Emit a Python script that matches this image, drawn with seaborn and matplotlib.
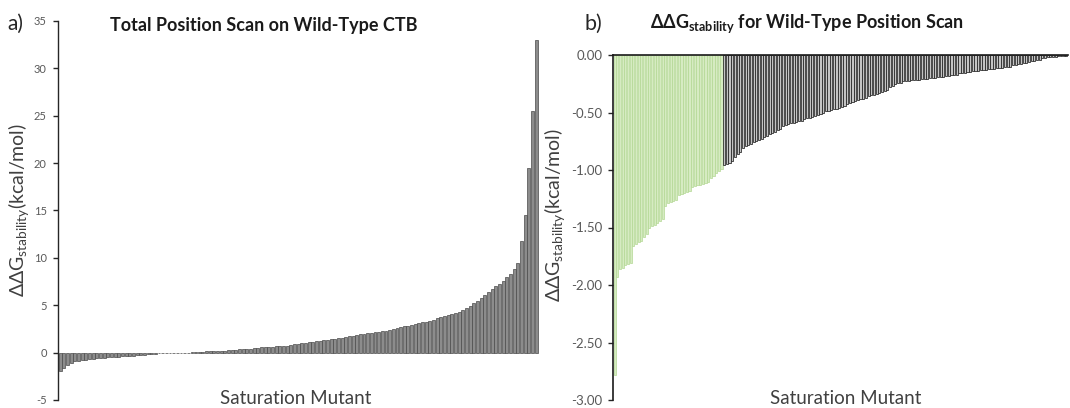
import numpy as np
import pandas as pd
import matplotlib
matplotlib.use("Agg")
import matplotlib.pyplot as plt
from matplotlib.ticker import FormatStrFormatter, MultipleLocator
import seaborn as sns

# Panel a: ddG of every saturation mutant, sorted ascending (kcal/mol)
scan_ddg = [
    -1.98, -1.62, -1.30, -1.05, -0.93, -0.86, -0.80, -0.74, -0.70, -0.66,
    -0.62, -0.58, -0.54, -0.50, -0.47, -0.44, -0.42, -0.40, -0.37, -0.35,
    -0.33, -0.30, -0.26, -0.22, -0.18, -0.14, -0.11, -0.08, -0.06, -0.04,
    -0.03, -0.02, -0.01, -0.005, 0.005, 0.01, 0.03, 0.05, 0.08, 0.10,
    0.12, 0.14, 0.16, 0.18, 0.20, 0.22, 0.26, 0.30, 0.32, 0.35,
    0.38, 0.41, 0.43, 0.45, 0.50, 0.55, 0.60, 0.62, 0.64, 0.66,
    0.68, 0.70, 0.72, 0.78, 0.86, 0.94, 1.00, 1.05, 1.10, 1.15,
    1.20, 1.26, 1.32, 1.36, 1.40, 1.45, 1.50, 1.58, 1.66, 1.73,
    1.80, 1.86, 1.92, 1.98, 2.03, 2.10, 2.15, 2.20, 2.25, 2.30,
    2.42, 2.52, 2.60, 2.68, 2.78, 2.86, 2.95, 3.02, 3.10, 3.20,
    3.28, 3.36, 3.48, 3.62, 3.72, 3.82, 3.96, 4.10, 4.22, 4.34,
    4.52, 4.72, 4.95, 5.20, 5.50, 5.80, 6.10, 6.45, 6.75, 7.00,
    7.25, 7.60, 7.95, 8.35, 8.80, 9.50, 11.80, 14.50, 19.50, 25.50,
    33.00,
]

# Panel b: stabilising mutants only; the first group is the strongly stabilising set
stab_ddg_strong = [
    -2.78, -1.93, -1.86, -1.85, -1.83, -1.82, -1.81, -1.66, -1.64, -1.63,
    -1.62, -1.58, -1.56, -1.50, -1.49, -1.48, -1.46, -1.44, -1.43, -1.31,
    -1.29, -1.28, -1.27, -1.26, -1.22, -1.21, -1.20, -1.19, -1.18, -1.15,
    -1.14, -1.13, -1.13, -1.12, -1.11, -1.10, -1.07, -1.05, -1.03, -1.01,
    -0.99,
]
stab_ddg_other = [
    -0.96, -0.95, -0.94, -0.92, -0.89, -0.86, -0.84, -0.81, -0.79, -0.78,
    -0.77, -0.76, -0.75, -0.74, -0.73, -0.71, -0.70, -0.69, -0.68, -0.67,
    -0.65, -0.64, -0.62, -0.61, -0.60, -0.59, -0.59, -0.58, -0.57, -0.57,
    -0.56, -0.55, -0.55, -0.54, -0.53, -0.52, -0.51, -0.50, -0.49, -0.49,
    -0.48, -0.47, -0.47, -0.46, -0.45, -0.44, -0.43, -0.42, -0.41, -0.40,
    -0.39, -0.38, -0.38, -0.37, -0.36, -0.35, -0.35, -0.34, -0.33, -0.32,
    -0.31, -0.30, -0.28, -0.27, -0.25, -0.24, -0.24, -0.23, -0.23, -0.23,
    -0.22, -0.22, -0.22, -0.22, -0.21, -0.21, -0.21, -0.20, -0.20, -0.20,
    -0.19, -0.19, -0.19, -0.18, -0.18, -0.17, -0.17, -0.17, -0.16, -0.16,
    -0.16, -0.15, -0.15, -0.14, -0.14, -0.14, -0.13, -0.13, -0.13, -0.12,
    -0.12, -0.12, -0.11, -0.11, -0.11, -0.10, -0.10, -0.10, -0.09, -0.09,
    -0.08, -0.08, -0.07, -0.07, -0.06, -0.05, -0.05, -0.04, -0.04, -0.03,
    -0.03, -0.02, -0.02, -0.02, -0.02, -0.01, -0.01, -0.01, -0.01,
]

sns.set_theme(style="ticks")
plt.rcParams["font.family"] = ["Lato", "DejaVu Sans"]
plt.rcParams["mathtext.fontset"] = "custom"
plt.rcParams["mathtext.rm"] = "Lato"
plt.rcParams["mathtext.it"] = "Lato:italic"
plt.rcParams["mathtext.bf"] = "Lato:bold"
plt.rcParams["axes.unicode_minus"] = False

W, H = 1070, 408
fig = plt.figure(figsize=(W / 100, H / 100), dpi=100)


def px_box(left, top, right, bottom):
    return [left / W, 1 - bottom / H, (right - left) / W, (bottom - top) / H]


ax1 = fig.add_axes(px_box(58, 21, 539, 400))
ax2 = fig.add_axes(px_box(613, 55, 1068, 400))

tick_grey = "#595959"
label_grey = "#404040"

# ---- panel a ----
scan_df = pd.DataFrame({"mutant": np.arange(len(scan_ddg)), "ddg": scan_ddg})
sns.barplot(data=scan_df, x="mutant", y="ddg", native_scale=True, errorbar=None,
            color="#8c8c8c", saturation=1, width=0.8,
            edgecolor="#4a4a4a", linewidth=0.5, ax=ax1)
ax1.set_xlim(-0.6, len(scan_ddg) - 0.2)
ax1.set_ylim(-5, 35)
ax1.yaxis.set_major_locator(MultipleLocator(5))
ax1.set_xticks([])
ax1.set_xlabel("")
ax1.set_ylabel("")
for side in ("top", "right", "bottom"):
    ax1.spines[side].set_visible(False)
ax1.spines["left"].set_color("#262626")
ax1.spines["left"].set_linewidth(1.0)
ax1.tick_params(axis="y", length=3.5, width=1.0, color="#262626",
                labelsize=8, labelcolor=tick_grey, pad=4.5)

# ---- panel b ----
n_strong = len(stab_ddg_strong)
strong_df = pd.DataFrame({"mutant": np.arange(n_strong), "ddg": stab_ddg_strong})
other_df = pd.DataFrame({"mutant": np.arange(n_strong, n_strong + len(stab_ddg_other)),
                         "ddg": stab_ddg_other})
sns.barplot(data=strong_df, x="mutant", y="ddg", native_scale=True, errorbar=None,
            color="#d6ebc2", saturation=1, width=0.8,
            edgecolor="#b3d893", linewidth=0.5, ax=ax2)
sns.barplot(data=other_df, x="mutant", y="ddg", native_scale=True, errorbar=None,
            color="#c4c4c4", saturation=1, width=0.8,
            edgecolor="#222222", linewidth=0.55, ax=ax2)
n_total = n_strong + len(stab_ddg_other)
ax2.set_xlim(-0.6, n_total - 0.4)
ax2.set_ylim(-3, 0)
ax2.yaxis.set_major_locator(MultipleLocator(0.5))
ax2.yaxis.set_major_formatter(FormatStrFormatter("%.2f"))
ax2.set_xticks([])
ax2.set_xlabel("")
ax2.set_ylabel("")
for side in ("right", "bottom"):
    ax2.spines[side].set_visible(False)
for side in ("top", "left"):
    ax2.spines[side].set_color("#1a1a1a")
    ax2.spines[side].set_linewidth(1.2)
ax2.tick_params(axis="y", length=3.5, width=1.0, color="#262626",
                labelsize=9.5, labelcolor=tick_grey, pad=4)

# ---- titles and labels ----
fig.text(7 / W, 1 - 30 / H, "a)", fontsize=15, va="baseline", color="#262626")
fig.text(110 / W, 1 - 31 / H, "Total Position Scan on Wild-Type CTB",
         fontsize=13, fontweight="bold", va="baseline", color="#1a1a1a")
fig.text(584 / W, 1 - 30 / H, "b)", fontsize=15.5, va="baseline", color="#262626")
fig.text(650 / W, 1 - 28 / H,
         r"$\mathbf{\Delta\Delta G_{stability}}$ for Wild-Type Position Scan",
         fontsize=13, fontweight="bold", va="baseline", color="#1a1a1a")

ylab = r"$\mathrm{\Delta\Delta G_{stability}}$(kcal/mol)"
fig.text(19 / W, 1 - 210 / H, ylab, rotation=90, ha="center", va="center",
         fontsize=14, color=label_grey)
fig.text(555 / W, 1 - 215 / H, ylab, rotation=90, ha="center", va="center",
         fontsize=14, color=label_grey)

fig.text(296 / W, 1 - 404 / H, "Saturation Mutant", ha="center", va="baseline",
         fontsize=13.5, color=label_grey)
fig.text(846 / W, 1 - 404 / H, "Saturation Mutant", ha="center", va="baseline",
         fontsize=13.5, color=label_grey)

fig.savefig("out.png", dpi=100)
